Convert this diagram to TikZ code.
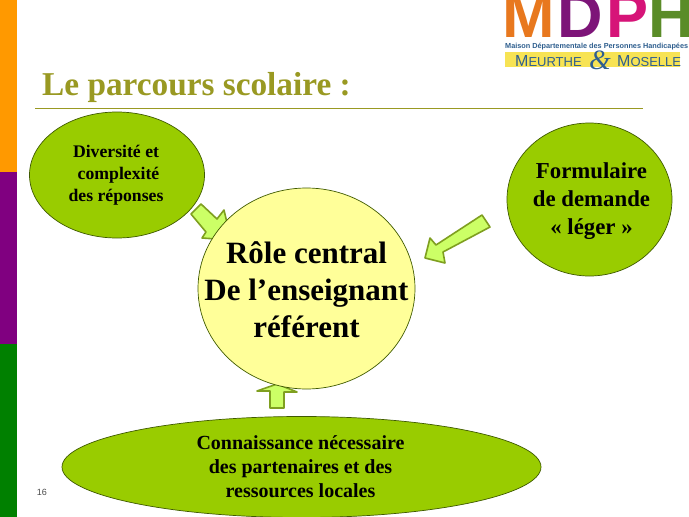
\documentclass[tikz,border=0pt]{standalone}
\usepackage{fontspec}
\setmainfont{Liberation Serif}
\setsansfont{Liberation Sans}
\usetikzlibrary{shapes.geometric}
\definecolor{barorange}{HTML}{FF9900}
\definecolor{barpurple}{HTML}{800080}
\definecolor{bargreen}{HTML}{008000}
\definecolor{titleolive}{HTML}{999922}
\definecolor{bubblegreen}{HTML}{99CC00}
\definecolor{bubbleedge}{HTML}{3F5A00}
\definecolor{corefill}{HTML}{FFFF99}
\definecolor{arrowfill}{HTML}{CCFF66}
\definecolor{arrowedge}{HTML}{7F9F20}
\definecolor{logoblue}{HTML}{2F5F8F}
\definecolor{logoband}{HTML}{F7E354}
\tikzset{
  bubble/.style={ellipse, draw=bubbleedge, line width=0.7pt, fill=bubblegreen, inner sep=0pt},
  bubbletext/.style={inner sep=0pt, align=center},
  blockarrow/.style={draw=arrowedge, line width=1.6pt, fill=arrowfill, line join=round},
  logoletter/.style={inner sep=0pt, anchor=base west, font=\sffamily\bfseries\fontsize{63}{63}\selectfont}
}
\begin{document}
\begin{tikzpicture}[x=1pt, y=-1pt]
  \useasboundingbox (0,0) rectangle (689,517);
  \fill[white] (0,0) rectangle (689,517);
  % side bars
  \fill[barorange] (0,0) rectangle (17,172);
  \fill[barpurple] (0,172) rectangle (17,344);
  \fill[bargreen] (0,344) rectangle (17,517);
  % logo
  \node[logoletter, text={rgb,255:red,232;green,120;blue,30}] (letterM) at (502,37) {M};
  \node[logoletter, text={rgb,255:red,125;green,20;blue,120}] (letterD) at (557,37) {D};
  \node[logoletter, text={rgb,255:red,214;green,20;blue,120}] (letterP) at (606,37) {P};
  \node[logoletter, text={rgb,255:red,90;green,140;blue,40}] (letterH) at (648,37) {H};
  \node[inner sep=0pt, text=logoblue, anchor=base west, font=\sffamily\bfseries\fontsize{7.3}{8}\selectfont] (logoline) at (505,48) {Maison Départementale des Personnes Handicapées};
  \fill[logoband] (505,52) rectangle (680,67);
  \node[inner sep=0pt, text=logoblue, anchor=base west, font=\sffamily\fontsize{16}{16}\selectfont] (logoleft) at (515,66) {M\fontsize{13}{16}\selectfont EURTHE};
  \node[inner sep=0pt, text=logoblue, anchor=base, font=\itshape\fontsize{28}{28}\selectfont] (logoamp) at (600,69) {\&};
  \node[inner sep=0pt, text=logoblue, anchor=base west, font=\sffamily\fontsize{16}{16}\selectfont] (logoright) at (617,66) {M\fontsize{13}{16}\selectfont OSELLE};
  % title
  \node[inner sep=0pt, anchor=base west, text=titleolive, font=\bfseries\fontsize{33.3}{36}\selectfont] (title) at (42,95) {Le parcours scolaire :};
  \draw[titleolive, line width=1pt] (35,108) -- (643,108);
  \node[inner sep=0pt, font=\sffamily\fontsize{9}{10}\selectfont, text=black!70] (pagenum) at (42,492) {16};
  % arrows
  \draw[blockarrow] (201,204) -- (217,219) -- (224,210) -- (231,240) -- (202,238) -- (206,232) -- (191,214) -- cycle;
  \draw[blockarrow] (482,215) -- (490,227) -- (443,252) -- (445,263) -- (425,258) -- (430,238) -- (436,245) -- cycle;
  \draw[blockarrow] (270,391) -- (257,391) -- (277,384) -- (297,392) -- (284,392) -- (284,408) -- (270,408) -- cycle;
  % bubbles
  \node[bubble, minimum width=217pt, minimum height=201pt, fill=corefill] (core) at (306.5,288.5) {};
  \node[bubbletext, font=\bfseries\fontsize{31}{37}\selectfont] (coretext) at (306.5,290) {Rôle central\\De l’enseignant\\référent};
  \node[bubble, minimum width=175pt, minimum height=126pt] (diversite) at (117,175) {};
  \node[bubbletext, font=\bfseries\fontsize{17.7}{22}\selectfont] (diversitetext) at (116,175.5) {Diversité et\\\hspace*{5pt}complexité\\des réponses};
  \node[bubble, minimum width=165pt, minimum height=153pt] (formulaire) at (589.5,199.5) {};
  \node[bubbletext, font=\bfseries\fontsize{22.8}{28}\selectfont] (formulairetext) at (591.5,201) {Formulaire\\de demande\\« léger »};
  \node[bubble, minimum width=479pt, minimum height=101pt] (connaissance) at (301.5,467) {};
  \node[bubbletext, font=\bfseries\fontsize{20}{24}\selectfont] (connaissancetext) at (300.5,467) {Connaissance nécessaire\\des partenaires et des\\ressources locales};
\end{tikzpicture}
\end{document}
